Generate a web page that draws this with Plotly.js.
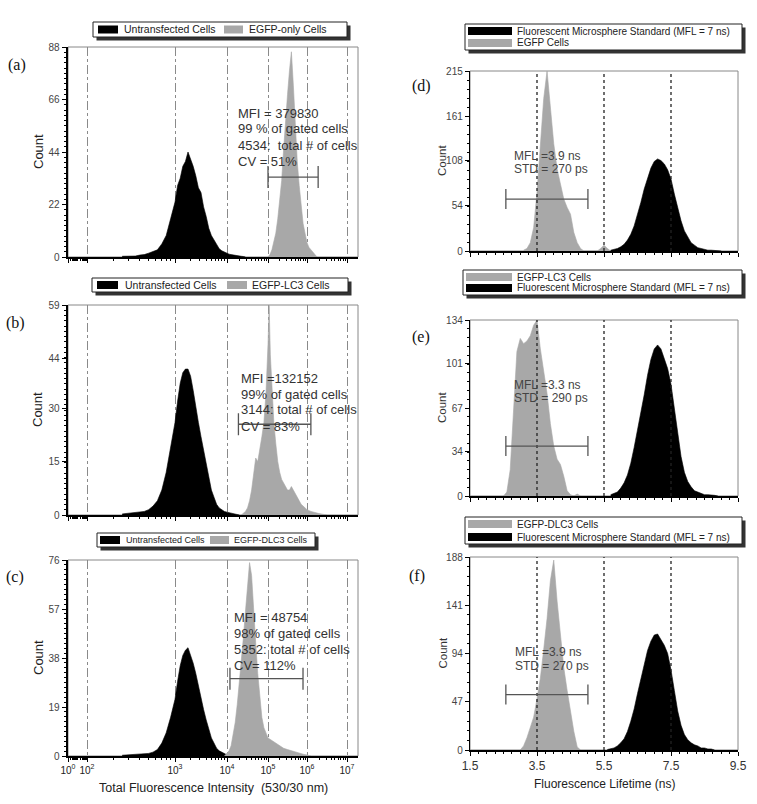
<!DOCTYPE html>
<html><head><meta charset="utf-8">
<script src="https://cdn.plot.ly/plotly-3.0.1.min.js"></script>
<style>html,body{margin:0;padding:0;background:#fff}#chart{width:757px;height:804px}</style>
</head><body><div id="chart"></div>
<script>
// ---------------- DATA ----------------
// Left column: log10(intensity) bin centres and counts
const aUntLog = [2.40,2.45,2.50,2.55,2.60,2.65,2.70,2.75,2.80,2.85,2.90,2.95,3.00,3.05,3.10,3.15,3.20,3.25,3.30,3.35,3.40,3.45,3.50,3.55,3.60,3.65,3.70,3.75,3.80,3.85,3.90,3.95,4.00,4.05,4.10,4.15,4.20,4.25,4.30,4.35,4.40,4.45];
const aUntCnt = [0.3,0.3,0.5,0.4,0.8,1,1.6,2.2,3,5.5,9,16,23,30,33,38,40,44,41,38,34,29,27,21,17,12,9,7,5,3.5,2.6,2,1.5,1.2,1,0.8,0.6,0.5,0.4,0.3,0.2,0];
const aGfpLog = [5.00,5.05,5.10,5.15,5.20,5.25,5.30,5.35,5.40,5.45,5.50,5.55,5.60,5.65,5.70,5.75,5.80,5.85,5.90,5.95,6.00,6.05,6.10,6.15,6.20,6.25];
const aGfpCnt = [0,1,3,6,10,16,24,32,45,58,68,78,86,72,55,40,30,22,14,10,6,4,3,2,1,0];

const bUntLog = [2.40,2.50,2.60,2.65,2.70,2.75,2.80,2.85,2.90,2.95,3.00,3.05,3.10,3.15,3.20,3.25,3.30,3.35,3.40,3.45,3.50,3.55,3.60,3.65,3.70,3.75,3.80,3.85,3.90,3.95,4.00,4.10,4.20,4.30];
const bUntCnt = [0.3,0.5,0.8,1,1.5,2.5,4,7,12,19,26,32,37,40,41,41,39,35,30,26,22,18,14,10,7,5,3,2,1.5,1,0.8,0.5,0.3,0];
const bLc3Log = [4.35,4.40,4.45,4.50,4.55,4.60,4.65,4.70,4.75,4.80,4.85,4.90,4.95,5.00,5.03,5.06,5.10,5.15,5.20,5.25,5.30,5.35,5.40,5.45,5.50,5.55,5.60,5.65,5.70,5.75,5.80,5.85,5.90,5.95,6.00,6.10,6.20,6.30,6.40,6.50];
const bLc3Cnt = [0,0.5,1,2,4,7,12,16,15,18,22,26,34,48,59,45,36,26,20,15,12,10,9,8,7,7,8,7,6,5,4,3,2.5,2,1.5,1,0.6,0.4,0.2,0];

const cUntLog = [2.40,2.50,2.60,2.65,2.70,2.75,2.80,2.85,2.90,2.95,3.00,3.05,3.10,3.15,3.20,3.25,3.30,3.35,3.40,3.45,3.50,3.55,3.60,3.65,3.70,3.75,3.80,3.85,3.90,3.95,4.00,4.05];
const cUntCnt = [0.3,0.5,0.6,0.8,1,1.5,2.5,5,9,15,22,29,35,39,41,42,39,36,32,27,23,18,14,10,7,5,3,2,1.5,1,0.5,0];
const cDlcLog = [3.95,4.00,4.05,4.10,4.15,4.20,4.25,4.30,4.35,4.40,4.45,4.50,4.55,4.60,4.65,4.70,4.75,4.80,4.85,4.90,4.95,5.00,5.10,5.20,5.30,5.40,5.50,5.60,5.70,5.80,5.90,6.00,6.10];
const cDlcCnt = [0,1,2,4,8,13,20,28,36,46,56,66,75,70,55,44,32,22,15,11,9,7,6,5,4,3,2.5,2,1.5,1,0.7,0.4,0];

// Right column: lifetime (ns) bin centres and counts
const dGfpNs  = [3.1,3.2,3.3,3.4,3.5,3.6,3.7,3.8,3.9,4.0,4.1,4.2,4.3,4.4,4.5,4.6,4.7,4.8,4.9,5.0,5.1,5.2,5.3,5.4,5.5,5.6,5.7];
const dGfpCnt = [1,3,10,28,70,125,182,215,170,128,98,80,62,52,44,22,10,3,0,0,0,0,0,3,7,3,0];
const dStdNs  = [5.7,5.8,5.9,6.0,6.1,6.2,6.3,6.4,6.5,6.6,6.7,6.8,6.9,7.0,7.1,7.2,7.3,7.4,7.5,7.6,7.7,7.8,7.9,8.0,8.1,8.2,8.3,8.4,8.5,8.6,8.7,8.8,8.9,9.0];
const dStdCnt = [1,2,3,5,8,13,20,30,43,58,74,88,99,107,110,108,104,97,86,68,50,36,24,16,10,7,4,3,2,1,1,0.5,0.3,0];

const eLc3Ns  = [2.5,2.6,2.7,2.8,2.9,3.0,3.1,3.2,3.3,3.4,3.5,3.6,3.7,3.8,3.9,4.0,4.1,4.2,4.3,4.4,4.5,4.6,4.7,4.8];
const eLc3Cnt = [0,3,20,70,110,120,116,118,122,130,134,112,95,78,55,38,28,24,15,4,1,0,1.5,0];
const eStdNs  = [5.7,5.8,5.9,6.0,6.1,6.2,6.3,6.4,6.5,6.6,6.7,6.8,6.9,7.0,7.1,7.2,7.3,7.4,7.5,7.6,7.7,7.8,7.9,8.0,8.1,8.2,8.3,8.4,8.5,8.6,8.7,8.8,8.9];
const eStdCnt = [1,2,3,6,10,16,25,37,50,63,77,92,104,112,115,112,105,97,85,66,46,30,18,11,7,4,3,2,1,1,1,0.5,0];

const fDlcNs  = [3.0,3.1,3.2,3.3,3.4,3.5,3.6,3.7,3.8,3.9,4.0,4.1,4.2,4.3,4.4,4.5,4.6,4.7,4.8];
const fDlcCnt = [0,4,12,22,32,50,70,98,128,165,185,145,112,80,58,38,18,3,0];
const fStdNs  = [5.6,5.7,5.8,5.9,6.0,6.1,6.2,6.3,6.4,6.5,6.6,6.7,6.8,6.9,7.0,7.1,7.2,7.3,7.4,7.5,7.6,7.7,7.8,7.9,8.0,8.1,8.2,8.3,8.4,8.5,8.6,8.7,8.8];
const fStdCnt = [0.5,1,2,4,7,11,18,28,40,55,70,84,97,106,112,113,108,102,94,78,58,38,24,15,10,7,5,4,2,2,1,1,0];

// Axis tick labels / ranges
const decades = [0,2,3,4,5,6,7];
const decadeLabels = ['10<sup>0</sup>','10<sup>2</sup>','10<sup>3</sup>','10<sup>4</sup>','10<sup>5</sup>','10<sup>6</sup>','10<sup>7</sup>'];
const yMaxLeft = [88,59,76];
const yTicksLeft = [[0,22,44,66,88],[0,15,30,44,59],[0,19,38,57,76]];
const yMaxRight = [215,134,188];
const yTicksRight = [[0,54,108,161,215],[0,34,67,101,134],[0,47,94,141,188]];
const nsTicks = [1.5,3.5,5.5,7.5,9.5];
const nsDotted = [3.5,5.5,7.5];

// Gate markers: [low, high, count]
const gatesLeft = [[1.0e5,1.9e6,33.5],[1.9e4,1.25e6,25.5],[1.18e4,7.9e5,30]];
const gatesRight = [[2.57,5.02,62],[2.57,5.02,38],[2.57,5.02,54]];

const statsLeft = [
 ['MFI = 379830','99 % of gated cells','4534:  total # of cells','CV = 51%'],
 ['MFI =132152','99% of gated cells','3144: total # of cells','CV = 83%'],
 ['MFI = 48754','98% of gated cells','5352: total # of cells','CV= 112%']];
const statsRight = [
 ['MFL =3.9 ns','STD = 270 ps'],
 ['MFL =3.3 ns','STD = 290 ps'],
 ['MFL =3.9 ns','STD = 270 ps']];

// ---------------- LAYOUT HELPERS ----------------
const W=757,H=804;
const px=x=>x/W, py=y=>1-y/H;
const BLACK='#000000', GRAY='#a8a8a8';
// display scale for the biexponential-like intensity axis
const POS=[0,19,107,159,200,239,279];
function T(l){
  if(l<=0) return 0;
  for(let i=1;i<decades.length;i++){
    if(l<=decades[i]) return POS[i-1]+(l-decades[i-1])/(decades[i]-decades[i-1])*(POS[i]-POS[i-1]);
  }
  return POS[6]+(l-7)*40;
}
const minorLeft=[];
for(let k=0;k<7;k++) for(let m=2;m<=9;m++) minorLeft.push(T(k+Math.log10(m)));

const leftX=[68,358], rightX=[470,738];
const leftY=[[47,257],[305,515],[560,756]];
const rightY=[[71,251],[320,496],[557,750]];

const font='Liberation Sans, Arial, sans-serif';
const layout={width:W,height:H,margin:{l:0,r:0,t:0,b:0},paper_bgcolor:'#fff',plot_bgcolor:'#fff',
  showlegend:false,shapes:[],annotations:[],font:{family:font,color:'#333'}};
const traces=[];

function area(x,y,color,xa,ya){
  traces.push({type:'scatter',mode:'lines',x:x,y:y,fill:'tozeroy',fillcolor:color,
    line:{color:color,width:0.6},xaxis:xa,yaxis:ya,hoverinfo:'skip'});
}
function ann(o){ layout.annotations.push(Object.assign({xref:'paper',yref:'paper',showarrow:false,xanchor:'center',yanchor:'middle'},o)); }

// Left panels
const leftData=[[aUntLog,aUntCnt,aGfpLog,aGfpCnt],[bUntLog,bUntCnt,bLc3Log,bLc3Cnt],[cUntLog,cUntCnt,cDlcLog,cDlcCnt]];
for(let i=0;i<3;i++){
  const n=i+1, xa='x'+(n===1?'':n), ya='y'+(n===1?'':n);
  const d=leftData[i];
  area(d[0].map(T),d[1],BLACK,xa,ya);
  area(d[2].map(T),d[3],GRAY,xa,ya);
  layout['xaxis'+(n===1?'':n)]={domain:[px(leftX[0]),px(leftX[1])],range:[0,290],anchor:ya,
    tickmode:'array',tickvals:decades.map(T),ticktext:decadeLabels,showticklabels:i===2,
    tickfont:{size:10,color:'#222'},ticks:'outside',ticklen:4,tickcolor:'#000',
    showgrid:true,gridcolor:'#8a8a8a',griddash:'dashdot',gridwidth:1,zeroline:false,
    showline:true,linecolor:'#000',linewidth:1.5,fixedrange:true,
    minor:{tickmode:'array',tickvals:minorLeft,ticks:'outside',ticklen:2,tickcolor:'#000',showgrid:false}};
  layout['yaxis'+(n===1?'':n)]={domain:[py(leftY[i][1]),py(leftY[i][0])],range:[0,yMaxLeft[i]],anchor:xa,
    tickmode:'array',tickvals:yTicksLeft[i],ticks:'outside',ticklen:4,tickcolor:'#000',
    tickfont:{size:10,color:'#444'},showgrid:false,zeroline:false,showline:true,linecolor:'#000',linewidth:2.5,
    fixedrange:true,minor:{tickmode:'linear',tick0:0,dtick:yMaxLeft[i]/40,ticks:'outside',ticklen:2,tickcolor:'#000'}};
  layout.shapes.push({type:'rect',xref:xa+' domain',yref:ya+' domain',x0:0,x1:1,y0:0,y1:1,line:{color:'#888',width:1},layer:'below'});
  const g=gatesLeft[i], gx0=T(Math.log10(g[0])), gx1=T(Math.log10(g[1]));
  const dy=yMaxLeft[i]*11/(leftY[i][1]-leftY[i][0]);
  layout.shapes.push({type:'line',xref:xa,yref:ya,x0:gx0,x1:gx1,y0:g[2],y1:g[2],line:{color:'#555',width:1.3}});
  layout.shapes.push({type:'line',xref:xa,yref:ya,x0:gx0,x1:gx0,y0:g[2]-dy,y1:g[2]+dy,line:{color:'#555',width:1.3}});
  layout.shapes.push({type:'line',xref:xa,yref:ya,x0:gx1,x1:gx1,y0:g[2]-dy,y1:g[2]+dy,line:{color:'#555',width:1.3}});
  ann({x:px(38),y:py((leftY[i][0]+leftY[i][1])/2),text:'Count',textangle:-90,font:{size:13,color:'#222',family:font}});
}
// Right panels
const rightData=[[dStdNs,dStdCnt,dGfpNs,dGfpCnt],[eStdNs,eStdCnt,eLc3Ns,eLc3Cnt],[fStdNs,fStdCnt,fDlcNs,fDlcCnt]];
for(let i=0;i<3;i++){
  const n=i+4, xa='x'+n, ya='y'+n, d=rightData[i];
  area(d[2],d[3],GRAY,xa,ya);
  area(d[0],d[1],BLACK,xa,ya);
  layout['xaxis'+n]={domain:[px(rightX[0]),px(rightX[1])],range:[1.5,9.5],anchor:ya,
    tickmode:'array',tickvals:nsTicks,ticktext:nsTicks.map(v=>v.toFixed(1)),showticklabels:i===2,
    tickfont:{size:12,color:'#333'},ticks:'outside',ticklen:4,tickcolor:'#000',showgrid:false,zeroline:false,
    showline:true,linecolor:'#000',linewidth:1.5,fixedrange:true,
    minor:{tickmode:'linear',tick0:1.5,dtick:0.25,ticks:'outside',ticklen:2,tickcolor:'#000'}};
  layout['yaxis'+n]={domain:[py(rightY[i][1]),py(rightY[i][0])],range:[0,yMaxRight[i]],anchor:xa,
    tickmode:'array',tickvals:yTicksRight[i],ticks:'outside',ticklen:4,tickcolor:'#000',
    tickfont:{size:10,color:'#444'},showgrid:false,zeroline:false,showline:true,linecolor:'#000',linewidth:1.2,
    fixedrange:true,minor:{tickmode:'linear',tick0:0,dtick:yMaxRight[i]/20,ticks:'outside',ticklen:2,tickcolor:'#000'}};
  layout.shapes.push({type:'rect',xref:xa+' domain',yref:ya+' domain',x0:0,x1:1,y0:0,y1:1,line:{color:'#888',width:1},layer:'below'});
  nsDotted.forEach(v=>layout.shapes.push({type:'line',xref:xa,yref:ya+' domain',x0:v,x1:v,y0:0,y1:1,
    line:{color:'#222',width:1.3,dash:'dot'},layer:'above'}));
  const g=gatesRight[i], dy=yMaxRight[i]*10/(rightY[i][1]-rightY[i][0]);
  layout.shapes.push({type:'line',xref:xa,yref:ya,x0:g[0],x1:g[1],y0:g[2],y1:g[2],line:{color:'#555',width:1.3}});
  layout.shapes.push({type:'line',xref:xa,yref:ya,x0:g[0],x1:g[0],y0:g[2]-dy,y1:g[2]+dy,line:{color:'#555',width:1.3}});
  layout.shapes.push({type:'line',xref:xa,yref:ya,x0:g[1],x1:g[1],y0:g[2]-dy,y1:g[2]+dy,line:{color:'#555',width:1.3}});
  ann({x:px(442),y:py((rightY[i][0]+rightY[i][1])/2),text:'Count',textangle:-90,font:{size:11.5,color:'#333',family:font}});
}

// stats text
const statPosL=[[236,113],[239,378],[232,617]];
statsLeft.forEach((lines,i)=>lines.forEach((t,j)=>ann({x:px(statPosL[i][0]),y:py(statPosL[i][1]+j*16),xanchor:'left',
  text:t,font:{size:13,color:'#333',family:font}})));
const statPosR=[[512,156],[512,385],[513,652]];
statsRight.forEach((lines,i)=>lines.forEach((t,j)=>ann({x:px(statPosR[i][0]),y:py(statPosR[i][1]+j*13.5),xanchor:'left',
  text:t,font:{size:12,color:'#444',family:font}})));

// panel letters
const letters=[['(a)',17,65],['(b)',15,323],['(c)',15,577],['(d)',422,86],['(e)',421,337],['(f)',417,576]];
letters.forEach(l=>ann({x:px(l[1]),y:py(l[2]),text:l[0],font:{size:16,color:'#111',family:'Liberation Serif, Times New Roman, serif'}}));

// axis titles
ann({x:px(213),y:py(788),text:'Total Fluorescence Intensity  (530/30 nm)',font:{size:12.5,color:'#222',family:font}});
ann({x:px(604),y:py(784),text:'Fluorescence Lifetime (ns)',font:{size:12,color:'#222',family:font}});

// legends (drawn boxes)
function rectPx(x0,y0,x1,y1,fill,line){
  layout.shapes.push({type:'rect',xref:'paper',yref:'paper',x0:px(x0),x1:px(x1),y0:py(y1),y1:py(y0),
    fillcolor:fill,line:line||{width:0},layer:'above'});
}
const legends=[
 {box:[93,22,347,37],items:[[98,118,29.5,BLACK,'Untransfected Cells',122],[224,243,29.5,GRAY,'EGFP-only Cells',247]],size:10.5,sh:3.5},
 {box:[92,278,348,292],items:[[97,118,285,BLACK,'Untransfected Cells',123],[227,247,285,GRAY,'EGFP-LC3 Cells',250]],size:10.5,sh:3.5},
 {box:[97,533,315,547],items:[[100,120,540,BLACK,'Untransfected Cells',124],[210,229,540,GRAY,'EGFP-DLC3 Cells',232]],size:9,sh:3.5},
 {box:[465,24,742,50],items:[[468,512,31,BLACK,'Fluorescent Microsphere Standard (MFL = 7 ns)',515],[468,512,43,GRAY,'EGFP Cells',515]],size:10,sh:3.5},
 {box:[463,270,742,295],items:[[466,512,277,GRAY,'EGFP-LC3 Cells',515],[466,512,288,BLACK,'Fluorescent Microsphere Standard (MFL = 7 ns)',515]],size:10,sh:3.5},
 {box:[465,517,742,544],items:[[468,512,524,GRAY,'EGFP-DLC3 Cells',515],[468,512,537,BLACK,'Fluorescent Microsphere Standard (MFL = 7 ns)',515]],size:10,sh:3.5}
];
legends.forEach(L=>{
  const b=L.box;
  rectPx(b[0]+L.sh,b[1]+L.sh,b[2]+L.sh,b[3]+L.sh,'#333');
  rectPx(b[0],b[1],b[2],b[3],'#fff',{color:'#222',width:1});
  L.items.forEach(it=>{
    rectPx(it[0],it[2]-4,it[1],it[2]+4,it[3]);
    ann({x:px(it[5]),y:py(it[2]),xanchor:'left',text:it[4],font:{size:L.size,color:'#222',family:font}});
  });
});

Plotly.newPlot('chart',traces,layout,{displayModeBar:false,staticPlot:true});
</script></body></html>
